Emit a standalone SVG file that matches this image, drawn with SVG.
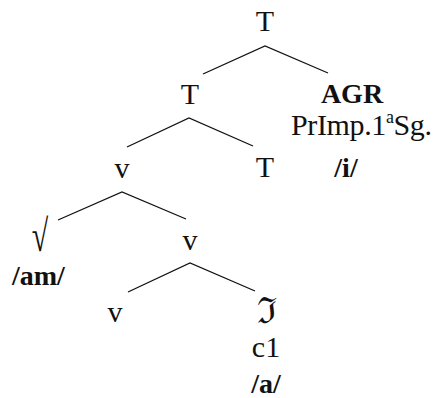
<svg xmlns="http://www.w3.org/2000/svg" width="433" height="398" viewBox="0 0 433 398">
<style>
text{font-family:"Liberation Serif","DejaVu Serif",serif;font-size:30px;fill:#111;}
.c{text-anchor:middle;}
.b{font-weight:bold;font-size:28px;}
.e{stroke:#111;stroke-width:1.3;fill:none;}
</style>
<rect width="433" height="398" fill="#fff"/>
<g id="connectors">
<polyline class="e" points="203,74 265,46 328,73"/>
<polyline class="e" points="127,147 189,118 253,146"/>
<polyline class="e" points="58,220 122,192 186,219"/>
<polyline class="e" points="128,292 190,263 255,291"/>
</g>
<g id="T1"><text class="c" x="265" y="31">T</text></g>
<g id="T2"><text class="c" x="190" y="104">T</text></g>
<g id="AGR">
<text class="c b" x="352" y="103">AGR</text>
<text x="291" y="135" textLength="141">PrImp.1<tspan font-size="18" dy="-12">a</tspan><tspan dy="12">Sg.</tspan></text>
<text class="c b" x="346" y="177">/i/</text>
</g>
<g id="v1"><text class="c" x="122" y="178">v</text></g>
<g id="T3"><text class="c" x="265" y="177">T</text></g>
<g id="root"><text class="c" transform="translate(40,251) scale(1,1.5)">√</text><text class="b" x="12" y="285">/am/</text></g>
<g id="v2"><text class="c" x="190" y="250">v</text></g>
<g id="v3"><text class="c" x="115" y="322">v</text></g>
<g id="th">
<text class="c" x="267" y="323" style="font-size:36px">ℑ</text>
<text class="c" x="266" y="357">c1</text>
<text class="c b" x="266" y="393">/a/</text>
</g>
</svg>
